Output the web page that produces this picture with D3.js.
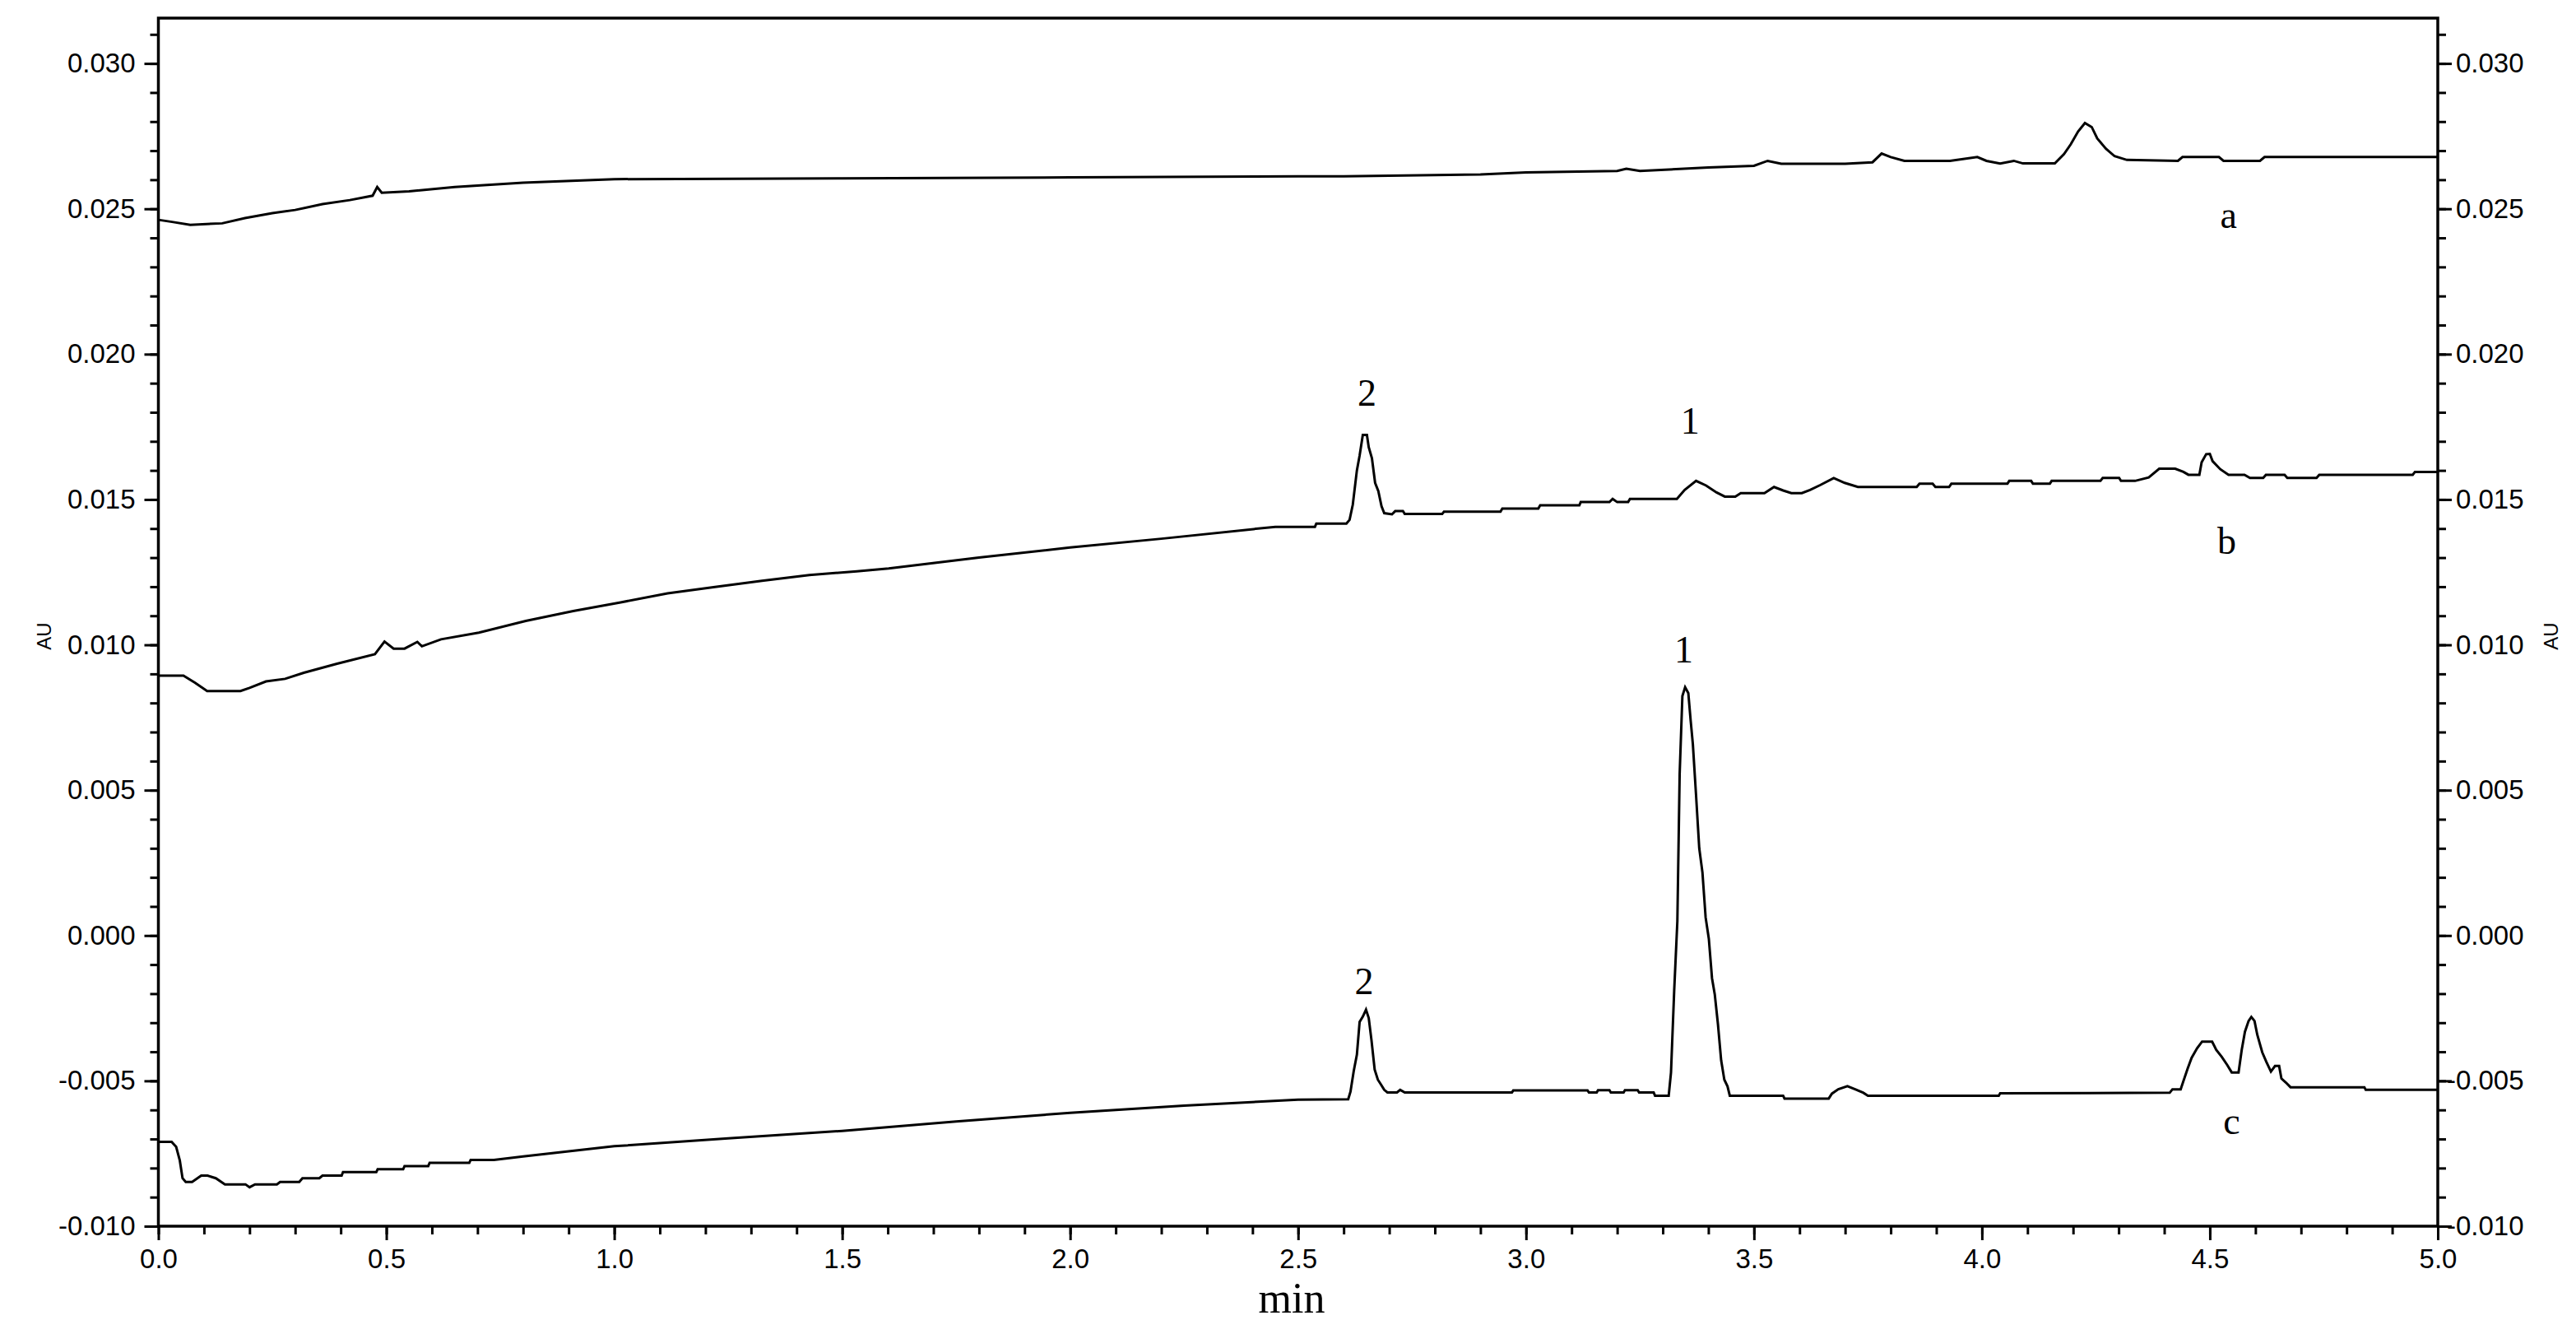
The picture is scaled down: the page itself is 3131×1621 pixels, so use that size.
<!DOCTYPE html>
<html>
<head>
<meta charset="utf-8">
<script src="https://cdn.jsdelivr.net/npm/d3@7"></script>
<style>
  html, body { margin: 0; padding: 0; background: #ffffff; }
  svg { display: block; }
</style>
</head>
<body>
<div id="chart"></div>
<script>
// ---- Data (time in min, absorbance in AU) ----
const traceA = [
  [0,0.02462],[0.03,0.02455],[0.07,0.02445],[0.14,0.0245],[0.19,0.02468],[0.25,0.02485],[0.30,0.02496],
  [0.36,0.02516],[0.42,0.0253],[0.47,0.02545],[0.48,0.02575],[0.49,0.02555],[0.55,0.0256],[0.65,0.02575],
  [0.8,0.0259],[1.0,0.02602],[1.5,0.02605],[2.0,0.02608],[2.5,0.02612],[2.6,0.02612],[2.9,0.02618],
  [3.0,0.02625],[3.2,0.0263],[3.22,0.02638],[3.25,0.0263],[3.4,0.02642],[3.5,0.02648],[3.53,0.02665],
  [3.56,0.02655],[3.7,0.02655],[3.76,0.0266],[3.78,0.0269],[3.80,0.02678],[3.83,0.02665],[3.93,0.02665],
  [3.99,0.02678],[4.01,0.02665],[4.04,0.02656],[4.07,0.02665],[4.09,0.02656],[4.16,0.02656],[4.18,0.02688],
  [4.195,0.02722],[4.211,0.02766],[4.226,0.02795],[4.241,0.02781],[4.253,0.02742],[4.272,0.02707],
  [4.291,0.02681],[4.318,0.02668],[4.43,0.02665],[4.44,0.02678],[4.52,0.02678],[4.53,0.02665],
  [4.61,0.02665],[4.62,0.02678],[5.0,0.02678]
];
const traceB = [
  [0,0.00894],[0.055,0.00894],[0.08,0.0087],[0.107,0.00841],[0.18,0.00841],[0.2,0.00852],[0.236,0.00874],
  [0.278,0.00883],[0.319,0.00904],[0.392,0.00935],[0.475,0.00968],[0.496,0.01011],[0.516,0.00987],
  [0.54,0.00987],[0.568,0.0101],[0.578,0.00995],[0.62,0.01019],[0.703,0.01042],[0.806,0.01082],
  [0.91,0.01116],[1.014,0.01146],[1.117,0.01177],[1.221,0.01199],[1.324,0.0122],[1.428,0.0124],
  [1.532,0.01253],[1.602,0.01263],[1.8,0.013],[2.0,0.01335],[2.2,0.01365],[2.45,0.01406],[2.537,0.01406],
  [2.54,0.01417],[2.606,0.01417],[2.613,0.0143],[2.62,0.01482],[2.629,0.016],[2.635,0.01651],
  [2.642,0.01722],[2.651,0.01722],[2.655,0.0168],[2.662,0.01642],[2.669,0.01557],[2.676,0.01529],
  [2.683,0.01477],[2.689,0.01453],[2.706,0.01449],[2.713,0.0146],[2.73,0.0146],[2.734,0.0145],
  [2.816,0.0145],[2.82,0.01458],[2.944,0.01458],[2.948,0.01469],[3.027,0.01469],[3.031,0.0148],
  [3.117,0.0148],[3.12,0.01491],[3.183,0.01491],[3.19,0.01502],[3.2,0.01491],[3.224,0.01491],
  [3.228,0.01502],[3.331,0.01502],[3.348,0.01533],[3.373,0.01564],[3.395,0.01548],[3.418,0.01524],
  [3.436,0.0151],[3.459,0.0151],[3.471,0.01522],[3.523,0.01522],[3.544,0.01543],[3.564,0.01531],
  [3.582,0.01522],[3.605,0.01522],[3.623,0.01533],[3.646,0.0155],[3.675,0.01574],[3.699,0.01557],
  [3.728,0.01543],[3.857,0.01543],[3.863,0.01554],[3.892,0.01554],[3.898,0.01543],[3.928,0.01543],
  [3.933,0.01554],[4.056,0.01554],[4.06,0.01564],[4.108,0.01564],[4.112,0.01554],[4.149,0.01554],
  [4.153,0.01564],[4.26,0.01564],[4.265,0.01574],[4.301,0.01574],[4.305,0.01564],[4.336,0.01564],
  [4.366,0.01576],[4.389,0.01606],[4.424,0.01606],[4.442,0.01595],[4.453,0.01585],[4.477,0.01585],
  [4.482,0.01628],[4.492,0.01656],[4.5,0.01657],[4.506,0.01632],[4.523,0.01604],[4.541,0.01585],
  [4.576,0.01585],[4.588,0.01574],[4.617,0.01574],[4.623,0.01585],[4.664,0.01585],[4.67,0.01574],
  [4.734,0.01574],[4.74,0.01585],[4.945,0.01585],[4.95,0.01595],[5.0,0.01595]
];
const traceC = [
  [0,-0.0071],[0.029,-0.0071],[0.039,-0.00727],[0.047,-0.00774],[0.053,-0.00835],[0.06,-0.00848],
  [0.074,-0.00848],[0.094,-0.00826],[0.108,-0.00826],[0.126,-0.00835],[0.146,-0.00856],[0.191,-0.00856],
  [0.2,-0.00866],[0.212,-0.00856],[0.26,-0.00856],[0.267,-0.00848],[0.309,-0.00848],[0.316,-0.00835],
  [0.353,-0.00835],[0.36,-0.00826],[0.402,-0.00826],[0.405,-0.00814],[0.478,-0.00814],[0.481,-0.00804],
  [0.537,-0.00804],[0.54,-0.00793],[0.592,-0.00793],[0.595,-0.00782],[0.682,-0.00782],[0.685,-0.00772],
  [0.736,-0.00772],[0.8,-0.0076],[1.0,-0.00725],[1.25,-0.00698],[1.5,-0.00672],[1.75,-0.0064],
  [2.0,-0.0061],[2.25,-0.00585],[2.5,-0.00565],[2.61,-0.00563],[2.615,-0.00537],[2.622,-0.00467],
  [2.629,-0.0041],[2.635,-0.00297],[2.642,-0.00279],[2.649,-0.00255],[2.655,-0.00284],[2.661,-0.0036],
  [2.668,-0.00461],[2.675,-0.00496],[2.682,-0.00513],[2.689,-0.00531],[2.696,-0.0054],[2.717,-0.0054],
  [2.724,-0.00531],[2.734,-0.0054],[2.969,-0.0054],[2.972,-0.00533],[3.135,-0.00533],[3.138,-0.0054],
  [3.155,-0.0054],[3.158,-0.00532],[3.183,-0.00532],[3.186,-0.0054],[3.214,-0.0054],[3.217,-0.00532],
  [3.245,-0.00532],[3.248,-0.0054],[3.28,-0.0054],[3.283,-0.00551],[3.313,-0.00551],[3.318,-0.00472],
  [3.325,-0.00191],[3.332,0.0005],[3.337,0.00555],[3.343,0.00824],[3.349,0.00854],[3.356,0.00834],
  [3.361,0.00742],[3.366,0.00658],[3.373,0.00482],[3.38,0.003],[3.387,0.00217],[3.394,0.00062],
  [3.401,-0.00011],[3.408,-0.00147],[3.414,-0.00202],[3.421,-0.00305],[3.428,-0.00429],[3.435,-0.00496],
  [3.442,-0.00519],[3.447,-0.00551],[3.564,-0.00551],[3.567,-0.00561],[3.664,-0.00561],[3.671,-0.00544],
  [3.685,-0.00529],[3.705,-0.00518],[3.722,-0.00529],[3.74,-0.00541],[3.75,-0.00551],[4.037,-0.00551],
  [4.04,-0.00543],[4.412,-0.00541],[4.418,-0.00529],[4.436,-0.00529],[4.442,-0.00501],[4.451,-0.00459],
  [4.46,-0.00421],[4.472,-0.00388],[4.483,-0.00365],[4.505,-0.00365],[4.514,-0.00393],[4.526,-0.00417],
  [4.538,-0.00445],[4.548,-0.00471],[4.563,-0.00471],[4.57,-0.00393],[4.577,-0.00331],[4.585,-0.00294],
  [4.591,-0.0028],[4.598,-0.00294],[4.604,-0.00341],[4.615,-0.00402],[4.624,-0.00435],[4.634,-0.00468],
  [4.643,-0.00449],[4.652,-0.00449],[4.657,-0.00492],[4.667,-0.00506],[4.677,-0.00522],[4.839,-0.00522],
  [4.842,-0.00531],[5.0,-0.00531]
];

// axis ticks
const xMajorTicks = [0, 0.5, 1.0, 1.5, 2.0, 2.5, 3.0, 3.5, 4.0, 4.5, 5.0];
const xTickLabels = ["0.0","0.5","1.0","1.5","2.0","2.5","3.0","3.5","4.0","4.5","5.0"];
const yMajorTicks = [-0.010, -0.005, 0.000, 0.005, 0.010, 0.015, 0.020, 0.025, 0.030];
const yTickLabels = ["-0.010","-0.005","0.000","0.005","0.010","0.015","0.020","0.025","0.030"];

// annotations: text, time, AU (baseline anchor)
const annotations = [
  ["a", 4.541, 0.02434],
  ["b", 4.537, 0.01313],
  ["c", 4.548, -0.00683],
  ["2", 2.651, 0.01822],
  ["1", 3.360, 0.01726],
  ["1", 3.346, 0.00939],
  ["2", 2.645, -0.00202]
];

const xTitle = "min";
const yTitle = "AU";

// ---- Drawing ----
const W = 3131, H = 1621;
const svg = d3.select("#chart").append("svg").attr("width", W).attr("height", H)
  .style("background", "#fff");

const x = d3.scaleLinear().domain([0, 5]).range([192.5, 2963]);
const y = d3.scaleLinear().domain([-0.010, 0.03156]).range([1490, 22]);

const tickFont = "'Liberation Sans', Arial, sans-serif";
const serif = "'Liberation Serif', 'Times New Roman', serif";

// minor ticks
const xMinor = d3.range(0, 51).map(k => k / 10);
const yMinor = d3.range(-10, 32).map(k => k / 1000);

function styleAxis(g) {
  g.select(".domain").remove();
  g.selectAll(".tick line").attr("stroke", "#000").attr("stroke-width", 3);
  g.selectAll(".tick text").attr("fill", "#000").attr("font-family", tickFont).attr("font-size", 33);
}

// bottom
svg.append("g").attr("transform", "translate(0,1490)")
  .call(d3.axisBottom(x).tickValues(xMinor).tickSize(10).tickFormat(""))
  .call(styleAxis);
svg.append("g").attr("transform", "translate(0,1490)")
  .call(d3.axisBottom(x).tickValues(xMajorTicks).tickSize(17).tickPadding(11)
        .tickFormat((d, i) => xTickLabels[i]))
  .call(styleAxis);

// left
svg.append("g").attr("transform", "translate(192.5,0)")
  .call(d3.axisLeft(y).tickValues(yMinor).tickSize(10).tickFormat(""))
  .call(styleAxis);
svg.append("g").attr("transform", "translate(192.5,0)")
  .call(d3.axisLeft(y).tickValues(yMajorTicks).tickSize(17).tickPadding(11)
        .tickFormat((d, i) => yTickLabels[i]))
  .call(styleAxis);

// right
svg.append("g").attr("transform", "translate(2963,0)")
  .call(d3.axisRight(y).tickValues(yMinor).tickSize(10).tickFormat(""))
  .call(styleAxis);
const rightAxis = svg.append("g").attr("transform", "translate(2963,0)")
  .call(d3.axisRight(y).tickValues(yMajorTicks).tickSize(17).tickPadding(5)
        .tickFormat((d, i) => yTickLabels[i]))
  .call(styleAxis);
// negative labels: minus sign sits on the tick (as in the original)
rightAxis.selectAll(".tick text").attr("x", d => d < 0 ? 22 - 11 : 22);

// frame
svg.append("rect").attr("x", 192.5).attr("y", 22).attr("width", 2963 - 192.5).attr("height", 1490 - 22)
  .attr("fill", "none").attr("stroke", "#000").attr("stroke-width", 3.5);

// traces
const line = d3.line().x(d => x(d[0])).y(d => y(d[1]));
[traceA, traceB, traceC].forEach(tr => {
  svg.append("path").datum(tr).attr("d", line)
    .attr("fill", "none").attr("stroke", "#000").attr("stroke-width", 3)
    .attr("stroke-linejoin", "miter");
});

// annotations
svg.selectAll("text.ann").data(annotations).enter().append("text")
  .attr("class", "ann")
  .attr("x", d => x(d[1])).attr("y", d => y(d[2]))
  .attr("text-anchor", "middle")
  .attr("font-family", serif).attr("font-size", 46).attr("fill", "#000")
  .text(d => d[0]);

// axis titles
svg.append("text").attr("x", 1570).attr("y", 1595).attr("text-anchor", "middle")
  .attr("font-family", serif).attr("font-size", 52).attr("fill", "#000").text(xTitle);
svg.append("text").attr("transform", "translate(62,773) rotate(-90)").attr("text-anchor", "middle")
  .attr("font-family", tickFont).attr("font-size", 24).attr("fill", "#000").text(yTitle);
svg.append("text").attr("transform", "translate(3109,773) rotate(-90)").attr("text-anchor", "middle")
  .attr("font-family", tickFont).attr("font-size", 24).attr("fill", "#000").text(yTitle);
</script>
</body>
</html>
